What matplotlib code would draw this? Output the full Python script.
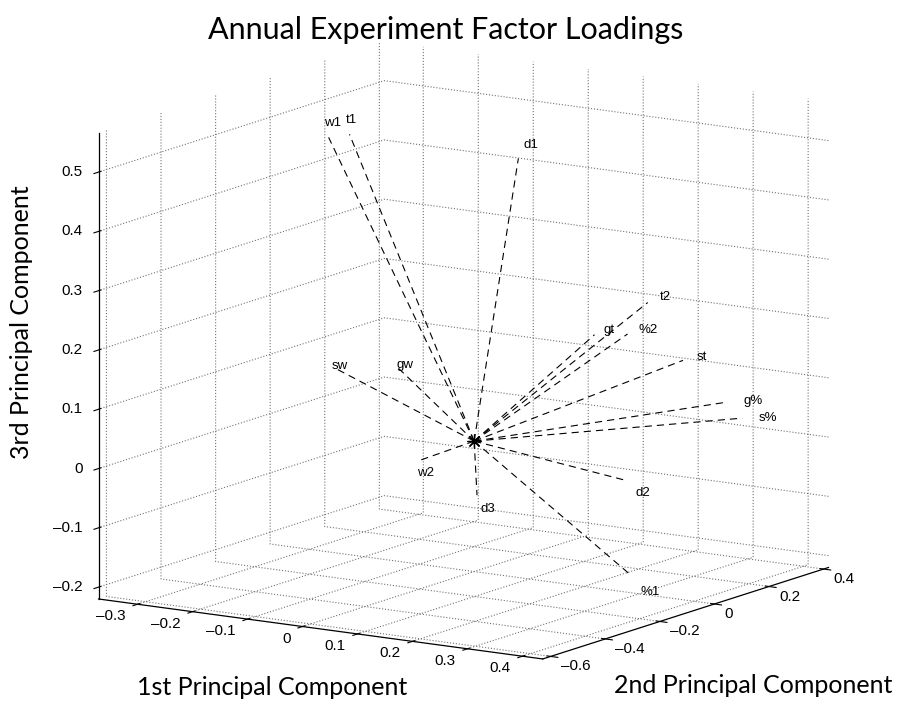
import matplotlib
matplotlib.use("Agg")
import matplotlib.pyplot as plt
import numpy as np
from mpl_toolkits.mplot3d import proj3d

# factor loadings (1st, 2nd, 3rd principal component)
names = ['w1', 't1', 'd1', 't2', 'gt', '%2', 'st', 'g%', 's%',
         'sw', 'gw', 'w2', 'd3', 'd2', '%1']
pc1 = [-0.097, -0.059, -0.007, 0.142, 0.070, 0.140, 0.231, 0.272, 0.289,
       -0.300, -0.189, -0.054, 0.030, 0.299, 0.400]
pc2 = [-0.338, -0.338, 0.176, 0.350, 0.300, 0.280, 0.300, 0.380, 0.400,
       0.096, 0.100, -0.100, -0.050, -0.050, -0.235]
pc3 = [0.550, 0.560, 0.450, 0.200, 0.144, 0.157, 0.121, 0.044, 0.016,
       0.071, 0.086, -0.026, -0.080, -0.021, -0.140]

xticks = [-0.3, -0.2, -0.1, 0, 0.1, 0.2, 0.3, 0.4]
yticks = [-0.6, -0.4, -0.2, 0, 0.2, 0.4]
zticks = [-0.2, -0.1, 0, 0.1, 0.2, 0.3, 0.4, 0.5]
xlim = (-0.371, 0.437)
ylim = (-0.629, 0.418)
zlim = (-0.22, 0.566)

plt.rcParams['grid.linestyle'] = ':'
plt.rcParams['grid.color'] = '0.45'
plt.rcParams['grid.linewidth'] = 0.8
plt.rcParams['font.family'] = ['Liberation Sans', 'DejaVu Sans']


def fmt(t):
    return f'{t:g}'.replace('-', '\u2013')


fig = plt.figure(figsize=(9.08, 7.04), dpi=100)
ax = fig.add_axes([0.0, -0.011, 1.0, 1.0], projection='3d')
ax.set_proj_type('ortho')
ax.view_init(elev=12, azim=-57)
ax.set_xlim(*xlim)
ax.set_ylim(*ylim)
ax.set_zlim(*zlim)
ax.set_box_aspect((527, 522, 474), zoom=1.22)

for axis in (ax.xaxis, ax.yaxis, ax.zaxis):
    axis.set_pane_color((1, 1, 1, 0))
    axis.pane.set_edgecolor('none')
    axis.line.set_linewidth(0.9)
    axis.label.set_visible(False)
    axis.offsetText.set_visible(False)
ax.zaxis.set_ticks_position('lower')

ax.set_xticks(xticks)
ax.set_yticks(yticks)
ax.set_zticks(zticks)
ax.set_xticklabels([''] * len(xticks))
ax.set_yticklabels([''] * len(yticks))
ax.set_zticklabels([''] * len(zticks))


def put(x, y, z, s, dx=0, dy=0, **kw):
    # place 2D text at the projected position of a 3D point
    px, py, _ = proj3d.proj_transform(x, y, z, ax.get_proj())
    ax.annotate(s, (px, py), xytext=(dx, dy), textcoords='offset pixels',
                annotation_clip=False, **kw)


for t in xticks:
    put(t, ylim[0], zlim[0], fmt(t), -12, -12, ha='right', va='center',
        fontsize=11)
for t in yticks:
    put(xlim[1], t, zlim[0], fmt(t), 10, -10, ha='left', va='center',
        fontsize=11)
for t in zticks:
    put(xlim[0], ylim[0], t, fmt(t), -16, 0, ha='right', va='center',
        fontsize=11)

for x, y, z, name in zip(pc1, pc2, pc3, names):
    ax.plot([0, x], [0, y], [0, z], color='black', lw=0.8,
            linestyle=(0, (6.5, 4.5)))
    put(1.05 * x, 1.05 * y, 1.05 * z, name, 3, -11 if z < 0 else -1,
        fontsize=9.5, ha='left', va='center')
ax.plot([0], [0], [0], marker=(8, 2, 0), color='black', ms=10, mew=0.9)

fig.text(0.491, 0.957, 'Annual Experiment Factor Loadings', family='Lato',
         fontsize=22, ha='center', va='center')
fig.text(0.30, 0.023, '1st Principal Component', family='Lato',
         fontsize=18, ha='center', va='center')
fig.text(0.83, 0.026, '2nd Principal Component', family='Lato',
         fontsize=18, ha='center', va='center')
fig.text(0.024, 0.543, '3rd Principal Component', family='Lato',
         fontsize=18, ha='center', va='center', rotation=90)

fig.savefig('out.png', dpi=100)
